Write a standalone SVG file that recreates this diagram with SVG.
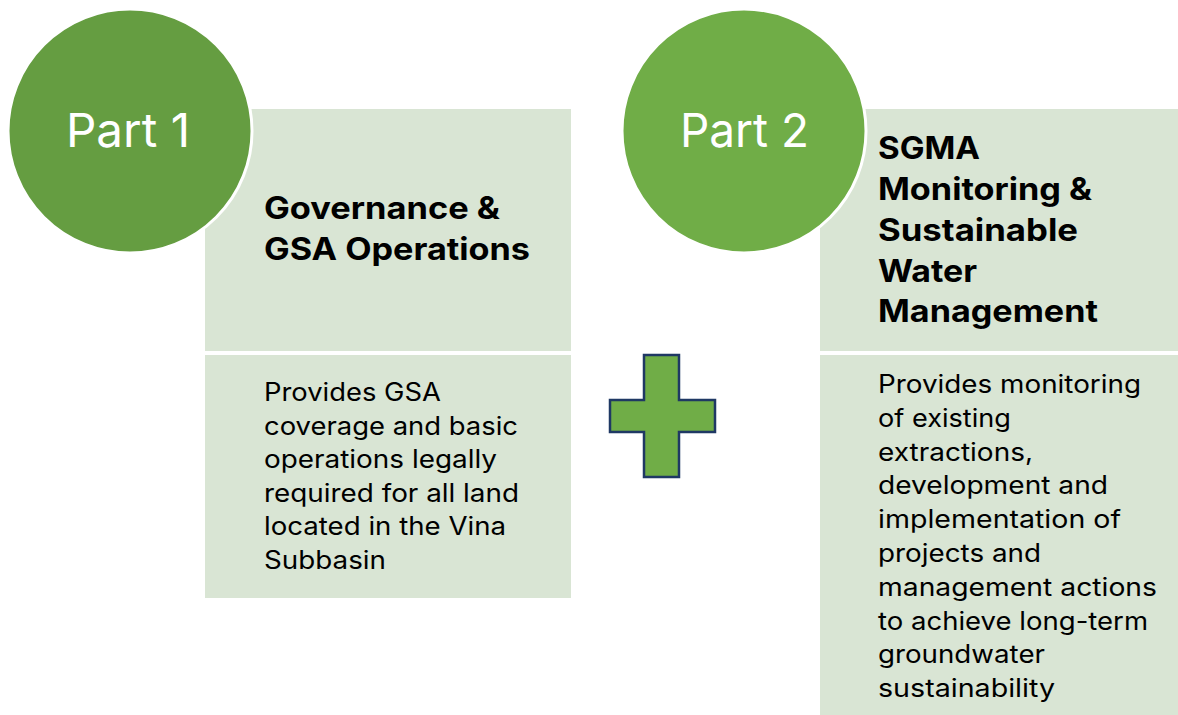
<svg xmlns="http://www.w3.org/2000/svg" width="1178" height="715" viewBox="0 0 1178 715">
<style>
.box{fill:#D9E5D4}
.circ{stroke:#FFFFFF;stroke-width:3}
.part{font-family:Inter,"Noto Sans",sans-serif;font-size:47px;fill:#FFFFFF}
.head{font-family:Inter,"Noto Sans",sans-serif;font-size:31px;font-weight:bold;fill:#000000}
.body{font-family:Inter,"Noto Sans",sans-serif;font-size:25px;fill:#000000}
</style>
<rect width="1178" height="715" fill="#FFFFFF"/>
<g id="part1-title-box">
<rect class="box" x="205" y="109" width="366" height="242"/>
<text class="head"><tspan x="264" y="219" textLength="236" lengthAdjust="spacingAndGlyphs">Governance &amp;</tspan><tspan x="264" y="260" textLength="266" lengthAdjust="spacingAndGlyphs">GSA Operations</tspan></text>
</g>
<g id="part1-desc-box">
<rect class="box" x="205" y="355" width="366" height="243"/>
<text class="body">
<tspan x="264" y="401" textLength="177" lengthAdjust="spacingAndGlyphs">Provides GSA</tspan>
<tspan x="264" y="434.5" textLength="254" lengthAdjust="spacingAndGlyphs">coverage and basic</tspan>
<tspan x="264" y="468" textLength="233" lengthAdjust="spacingAndGlyphs">operations legally</tspan>
<tspan x="264" y="501.5" textLength="255" lengthAdjust="spacingAndGlyphs">required for all land</tspan>
<tspan x="264" y="535" textLength="242" lengthAdjust="spacingAndGlyphs">located in the Vina</tspan>
<tspan x="264" y="568.5" textLength="122" lengthAdjust="spacingAndGlyphs">Subbasin</tspan>
</text>
</g>
<g id="part1-circle">
<circle class="circ" cx="130" cy="131" r="122" fill="#659D41"/>
<text class="part" x="66" y="147" textLength="124" lengthAdjust="spacingAndGlyphs">Part 1</text>
</g>
<g id="part2-title-box">
<rect class="box" x="820" y="109" width="358" height="242"/>
<text class="head">
<tspan x="878" y="159" textLength="102" lengthAdjust="spacingAndGlyphs">SGMA</tspan>
<tspan x="878" y="200" textLength="214" lengthAdjust="spacingAndGlyphs">Monitoring &amp;</tspan>
<tspan x="878" y="241" textLength="200" lengthAdjust="spacingAndGlyphs">Sustainable</tspan>
<tspan x="878" y="281.5" textLength="99" lengthAdjust="spacingAndGlyphs">Water</tspan>
<tspan x="878" y="322" textLength="220" lengthAdjust="spacingAndGlyphs">Management</tspan>
</text>
</g>
<g id="part2-desc-box">
<rect class="box" x="820" y="355" width="358" height="360"/>
<text class="body">
<tspan x="878" y="393" textLength="263" lengthAdjust="spacingAndGlyphs">Provides monitoring</tspan>
<tspan x="878" y="426.8" textLength="133" lengthAdjust="spacingAndGlyphs">of existing</tspan>
<tspan x="878" y="460.6" textLength="155" lengthAdjust="spacingAndGlyphs">extractions,</tspan>
<tspan x="878" y="494.4" textLength="230" lengthAdjust="spacingAndGlyphs">development and</tspan>
<tspan x="878" y="528.2" textLength="243" lengthAdjust="spacingAndGlyphs">implementation of</tspan>
<tspan x="878" y="562" textLength="163" lengthAdjust="spacingAndGlyphs">projects and</tspan>
<tspan x="878" y="595.8" textLength="279" lengthAdjust="spacingAndGlyphs">management actions</tspan>
<tspan x="878" y="629.6" textLength="270" lengthAdjust="spacingAndGlyphs">to achieve long-term</tspan>
<tspan x="878" y="663.4" textLength="167" lengthAdjust="spacingAndGlyphs">groundwater</tspan>
<tspan x="878" y="697.2" textLength="177" lengthAdjust="spacingAndGlyphs">sustainability</tspan>
</text>
</g>
<g id="part2-circle">
<circle class="circ" cx="744" cy="131" r="122" fill="#70AD47"/>
<text class="part" x="680" y="147" textLength="129" lengthAdjust="spacingAndGlyphs">Part 2</text>
</g>
<g id="plus">
<polygon points="644,355 679,355 679,400 715,400 715,432 679,432 679,477 644,477 644,432 610,432 610,400 644,400" fill="#70AD47" stroke="#1F3864" stroke-width="2.5"/>
</g>
<g id="connectors"></g>
</svg>
